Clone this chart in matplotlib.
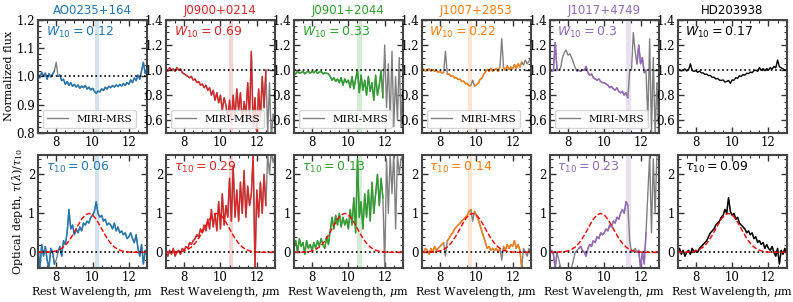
import numpy as np
import matplotlib
matplotlib.use("Agg")
import matplotlib.pyplot as plt
from matplotlib.ticker import AutoMinorLocator, MultipleLocator

plt.rcParams["font.family"] = "serif"
plt.rcParams["font.serif"] = ["DejaVu Serif"]
plt.rcParams["mathtext.fontset"] = "dejavusans"


wave = [7.0, 7.1, 7.2, 7.3, 7.4, 7.5, 7.6, 7.7, 7.8, 7.9,
        8.0, 8.1, 8.2, 8.3, 8.4, 8.5, 8.6, 8.7, 8.8, 8.9,
        9.0, 9.1, 9.2, 9.3, 9.4, 9.5, 9.6, 9.7, 9.8, 9.9,
        10.0, 10.1, 10.2, 10.3, 10.4, 10.5, 10.6, 10.7, 10.8, 10.9,
        11.0, 11.1, 11.2, 11.3, 11.4, 11.5, 11.6, 11.7, 11.8, 11.9,
        12.0, 12.1, 12.2, 12.3, 12.4, 12.5, 12.6, 12.7, 12.8, 12.9,
        13.0]

names = ["AO0235+164", "J0900+0214", "J0901+2044", "J1007+2853", "J1017+4749", "HD203938"]
colors = ["#1f77b4", "#d62728", "#2ca02c", "#ff7f0e", "#9467bd", "black"]
w10 = ["0.12", "0.69", "0.33", "0.22", "0.3", "0.17"]
tau10 = ["0.06", "0.29", "0.13", "0.14", "0.23", "0.09"]

# wavelength range of the 10 micron peak marker (None = no band)
bands = [(10.15, 10.35), (10.45, 10.7), (10.5, 10.75), (9.55, 9.78), (11.2, 11.45), None]

# ranges drawn only in grey (masked)
masks = [[(7.95, 8.05)],
         [(12.55, 13.1)],
         [(11.95, 13.1)],
         [(8.25, 8.35), (9.75, 9.85), (11.35, 11.45), (12.55, 13.1)],
         [(7.45, 8.55), (11.35, 11.75), (12.35, 13.1)],
         []]

flux_ao0235 = [1.01, 0.995, 1.015, 1.0, 1.012, 0.99, 1.01, 0.998, 1.008, 1.02,
               1.05, 1.00, 1.005, 0.985, 0.99, 0.972, 0.982, 0.968, 0.978, 0.965,
               0.972, 0.962, 0.97, 0.958, 0.966, 0.96, 0.968, 0.955, 0.962, 0.952,
               0.958, 0.948, 0.94, 0.948, 0.945, 0.956, 0.95, 0.962, 0.955, 0.965,
               0.96, 0.968, 0.962, 0.97, 0.964, 0.972, 0.966, 0.975, 0.968, 0.978,
               0.972, 0.988, 0.978, 0.995, 0.985, 1.005, 0.99, 1.02, 1.05, 1.01,
               1.03]
flux_j0900 = [1.01, 0.99, 1.02, 1.0, 1.01, 0.99, 1.02, 1.0, 1.01, 0.98,
              0.97, 0.96, 0.95, 0.94, 0.95, 0.92, 0.93, 0.9, 0.91, 0.88,
              0.89, 0.86, 0.88, 0.84, 0.86, 0.8, 0.84, 0.76, 0.82, 0.74,
              0.8, 0.68, 0.78, 0.72, 0.62, 0.76, 0.58, 0.8, 0.62, 0.85,
              0.68, 0.82, 0.58, 0.75, 0.64, 0.9, 0.62, 1.15, 0.55, 0.78,
              0.48, 0.85, 0.62, 0.95, 0.7, 1.0, 0.5, 0.9, 0.45, 0.65,
              0.6]
flux_j0901 = [0.98, 0.97, 0.99, 0.975, 0.98, 0.99, 0.97, 0.985, 0.99, 0.975,
              0.99, 0.98, 0.995, 0.975, 0.985, 0.99, 0.97, 0.98, 0.975, 0.97,
              0.95, 0.92, 0.94, 0.91, 0.93, 0.9, 0.94, 0.88, 0.93, 0.9,
              0.92, 0.86, 0.95, 0.85, 0.93, 1.0, 0.82, 0.96, 0.84, 0.92,
              0.8, 0.95, 0.83, 0.9, 0.76, 0.96, 0.8, 0.88, 1.0, 0.78,
              1.2, 0.7, 1.05, 0.6, 1.15, 0.55, 0.95, 0.6, 1.1, 0.55,
              0.9]
flux_j1007 = [1.0, 1.008, 0.994, 1.003, 1.01, 0.992, 1.004, 0.99, 0.998, 0.984,
              0.99, 0.978, 0.982, 1.15, 0.968, 0.97, 0.952, 0.956, 0.938, 0.94,
              0.925, 0.928, 0.91, 0.912, 0.892, 0.895, 0.875, 0.878, 0.92, 0.872,
              0.882, 0.895, 0.925, 0.935, 0.965, 0.985, 1.005, 0.99, 1.015, 0.99,
              1.005, 1.012, 0.99, 1.025, 1.25, 1.02, 0.998, 1.035, 1.005, 1.025,
              1.01, 1.045, 1.015, 1.05, 1.025, 1.065, 1.04, 1.08, 1.05, 1.07,
              1.1]
flux_j1017 = [1.0, 0.99, 1.0, 1.22, 1.0, 1.0, 1.02, 1.1, 1.14, 1.16,
              1.12, 1.13, 1.1, 1.06, 1.02, 0.99, 1.0, 0.99, 1.0, 1.0,
              1.03, 0.98, 0.96, 0.97, 0.94, 0.93, 0.92, 0.93, 0.91, 0.9,
              0.9, 0.89, 0.88, 0.86, 0.87, 0.85, 0.84, 0.86, 0.83, 0.82,
              0.83, 0.8, 0.82, 0.78, 1.0, 1.0, 1.3, 1.15, 1.05, 1.2,
              1.05, 1.1, 0.98, 1.0, 0.6, 1.25, 0.5, 1.1, 0.5, 0.9,
              0.5]
flux_hd203938 = [1.0, 1.006, 0.994, 1.002, 1.01, 0.993, 1.003, 1.05, 0.996, 0.99,
                 0.997, 0.983, 0.992, 0.978, 0.978, 0.966, 0.968, 0.956, 0.958, 0.942,
                 0.944, 0.93, 0.934, 0.92, 0.918, 0.922, 0.905, 0.91, 0.918, 0.895,
                 0.922, 0.92, 0.94, 0.935, 0.955, 0.95, 0.965, 0.96, 0.975, 0.972,
                 0.985, 0.98, 0.995, 1.0, 0.99, 1.02, 0.998, 1.012, 0.995, 1.012,
                 1.0, 1.02, 1.008, 1.03, 1.018, 1.08, 1.028, 1.018, 1.01, 1.0,
                 1.005]

tau_ao0235 = [0.1, -0.4, 0.2, -0.1, 0.15, -0.2, -0.4, 0.1, 0.0, -0.3,
              -0.2, 0.0, 0.15, -0.1, 0.3, 0.2, 0.5, 1.1, 0.6, 0.7,
              0.45, 0.6, 0.5, 0.65, 0.55, 0.75, 0.7, 0.8, 0.75, 0.9,
              0.95, 1.05, 1.3, 1.0, 0.9, 0.95, 0.8, 0.85, 0.7, 0.75,
              0.7, 0.6, 0.75, 0.55, 0.65, 0.5, 0.55, 0.45, 0.5, 0.35,
              0.4, 0.5, 0.35, 0.25, 0.45, 0.1, -0.1, 0.2, -0.3, 0.05,
              -0.1]
tau_j0900 = [0.0, -0.1, 0.05, -0.05, 0.1, -0.1, 0.0, 0.05, -0.05, 0.1,
             0.05, 0.15, 0.1, 0.25, 0.2, 0.3, 0.35, 0.45, 0.4, 0.6,
             0.5, 0.7, 0.55, 0.85, 0.6, 1.1, 0.65, 1.0, 0.55, 1.3,
             0.6, 1.5, 0.7, 1.2, 0.9, 1.9, 0.8, 2.2, 0.9, 1.6,
             0.8, 1.8, 1.0, 2.1, 0.9, 1.7, 1.2, 1.5, 2.5, -0.4,
             1.6, 0.9, 1.8, 1.0, 2.0, 1.2, 2.5, 2.0, 2.6, 2.3,
             2.5]
tau_j0901 = [0.1, 0.3, 0.0, 0.35, 0.15, 0.25, -0.05, 0.3, 0.1, 0.2,
             0.05, 0.25, 0.1, 0.3, 0.15, 0.35, 0.2, 0.1, 0.4, 0.2,
             0.55, 0.9, 0.6, 0.95, 0.7, 1.0, 0.65, 0.9, 0.7, 0.85,
             0.6, 1.1, 0.7, 1.4, 0.5, 2.4, 0.9, 1.3, 0.6, 1.5,
             0.9, 1.6, 0.8, 1.8, 1.0, 1.5, 2.0, 1.2, 1.9, 1.4,
             -0.4, 2.4, 1.0, 2.5, 1.5, 2.6, 0.6, 2.5, 2.0, 2.4,
             2.5]
tau_j1007 = [0.05, 0.0, 0.1, 0.05, -0.05, 0.1, 0.0, 0.15, 0.05, 0.1,
             0.15, 0.2, 0.25, -0.1, 0.3, 0.35, 0.45, 0.5, 0.6, 0.65,
             0.7, 0.75, 0.8, 0.85, 0.9, 0.95, 1.05, 1.1, 0.8, 1.05,
             0.95, 0.85, 0.7, 0.55, 0.4, 0.25, 0.1, 0.15, 0.05, 0.1,
             0.05, 0.1, 0.0, 0.1, -0.2, 0.15, 0.05, 0.2, 0.1, 0.2,
             0.15, 0.3, 0.1, 0.2, 0.05, -0.4, 0.1, 0.0, -0.1, 0.1,
             -0.05]
tau_j1017 = [0.0, 0.05, -0.05, -0.4, 0.0, -0.2, -0.4, -0.9, -1.0, -0.9,
             -0.6, -0.7, -0.4, -0.2, 0.0, 0.05, 0.1, 0.15, 0.05, 0.0,
             -0.1, 0.1, 0.2, 0.15, 0.3, 0.25, 0.4, 0.35, 0.5, 0.45,
             0.5, 0.6, 0.55, 0.7, 0.65, 0.8, 0.75, 0.9, 0.85, 1.0,
             1.1, 1.0, 1.3, 1.2, 0.3, 0.0, 0.05, 0.1, 0.0, 0.05,
             -0.4, 0.0, -0.3, 0.5, 1.5, 2.5, 0.5, 2.4, 1.0, 2.5,
             2.5]
tau_hd203938 = [0.0, 0.1, -0.05, 0.05, -0.1, 0.0, 0.05, -0.05, 0.1, 0.0,
                0.05, 0.0, 0.1, 0.15, 0.2, 0.25, 0.3, 0.4, 0.5, 0.55,
                0.6, 0.7, 0.75, 0.8, 0.9, 0.95, 1.1, 1.0, 1.4, 1.05,
                0.95, 1.0, 0.85, 0.9, 0.75, 0.7, 0.65, 0.6, 0.5, 0.55,
                0.45, 0.5, 0.35, 0.4, 0.25, 0.3, 0.2, 0.25, 0.1, 0.2,
                0.1, 0.05, 0.15, 0.0, -0.1, 0.1, -0.3, 0.05, -0.05, 0.1,
                0.0]

fluxes = [flux_ao0235, flux_j0900, flux_j0901, flux_j1007, flux_j1017, flux_hd203938]
taus = [tau_ao0235, tau_j0900, tau_j0901, tau_j1007, tau_j1017, tau_hd203938]

# silicate template profile (red dashed)
tmpl_wave = [7.0, 7.2, 7.4, 7.6, 7.8, 8.0, 8.2, 8.4, 8.6, 8.8,
             9.0, 9.2, 9.4, 9.6, 9.8, 10.0, 10.2, 10.4, 10.6, 10.8,
             11.0, 11.2, 11.4, 11.6, 11.8, 12.0, 12.2, 12.6, 13.0]
tmpl_tau = [0.0, 0.0, 0.003, 0.007, 0.017, 0.037, 0.073, 0.135, 0.23, 0.36,
            0.52, 0.69, 0.85, 0.96, 1.0, 0.96, 0.85, 0.69, 0.52, 0.36,
            0.23, 0.135, 0.073, 0.037, 0.017, 0.007, 0.0, 0.0, 0.0]

top_ylims = [(0.8, 1.2), (0.5, 1.4), (0.5, 1.4), (0.5, 1.4), (0.5, 1.4), (0.5, 1.4)]


def masked(values, ranges):
    w = np.array(wave)
    v = np.array(values, dtype=float)
    for lo, hi in ranges:
        v[(w > lo) & (w < hi)] = np.nan
    return v


def style_axis(ax):
    ax.set_xlim(7, 13)
    ax.xaxis.set_major_locator(MultipleLocator(2))
    ax.xaxis.set_minor_locator(AutoMinorLocator(4))
    ax.yaxis.set_minor_locator(AutoMinorLocator())
    ax.tick_params(which="both", direction="in", top=True, right=True,
                   labelsize=8.5, color="#333333", pad=2)
    ax.tick_params(which="major", length=4, width=1)
    ax.tick_params(which="minor", length=2, width=0.8)
    for s in ax.spines.values():
        s.set_linewidth(1.5)
        s.set_color("#444444")


def main():
    fig, axes = plt.subplots(2, 6, figsize=(7.93, 3.02), dpi=100)
    fig.subplots_adjust(left=0.048, right=0.992, top=0.934, bottom=0.113,
                        wspace=0.174, hspace=0.195)
    w = np.array(wave)
    for i in range(6):
        c = colors[i]
        ax = axes[0, i]
        if masks[i]:
            ax.plot(w, fluxes[i], color="grey", lw=1.0, label="MIRI-MRS")
        ax.plot(w, masked(fluxes[i], masks[i]), color=c, lw=1.0)
        ax.axhline(1.0, color="black", ls=":", lw=1.2)
        if bands[i] is not None:
            ax.axvspan(bands[i][0], bands[i][1], color=c, alpha=0.2, lw=0)
        ax.set_ylim(top_ylims[i])
        if i == 0:
            ax.yaxis.set_major_locator(MultipleLocator(0.1))
        else:
            ax.yaxis.set_major_locator(MultipleLocator(0.2))
        ax.set_title(names[i], color=c, fontsize=8.5, pad=4, family="DejaVu Sans")
        ax.text(0.07, 0.96, r"$W_{10}=" + w10[i] + "$",
                transform=ax.transAxes, color=c, fontsize=9, va="top", ha="left")
        if i < 5:
            ax.legend(loc="lower left", prop={"family": "serif", "size": 7.5},
                      handlelength=2, borderpad=0.4, labelspacing=0.2)
        style_axis(ax)

        ax = axes[1, i]
        ax.plot(w, taus[i], color="grey", lw=1.0)
        ax.plot(w, masked(taus[i], masks[i]), color=c, lw=1.0)
        ax.axhline(0.0, color="black", ls=":", lw=1.2)
        ax.plot(tmpl_wave, tmpl_tau, color="red", ls="--", lw=1.0)
        if bands[i] is not None:
            ax.axvspan(bands[i][0], bands[i][1], color=c, alpha=0.2, lw=0)
        ax.set_ylim(-0.4, 2.5)
        ax.yaxis.set_major_locator(MultipleLocator(1))
        ax.text(0.07, 0.96, r"$\tau_{10}=" + tau10[i] + "$",
                transform=ax.transAxes, color=c, fontsize=9, va="top", ha="left")
        ax.set_xlabel(r"Rest Wavelength, $\mu$m", fontsize=8, labelpad=1,
                      math_fontfamily="dejavuserif")
        style_axis(ax)

    axes[0, 0].set_ylabel("Normalized flux", fontsize=8, labelpad=2)
    axes[1, 0].set_ylabel(r"Optical depth, $\tau(\lambda)/\tau_{10}$",
                          fontsize=8, labelpad=2, math_fontfamily="dejavuserif")
    fig.savefig("out.png", dpi=100)


if __name__ == "__main__":
    main()
